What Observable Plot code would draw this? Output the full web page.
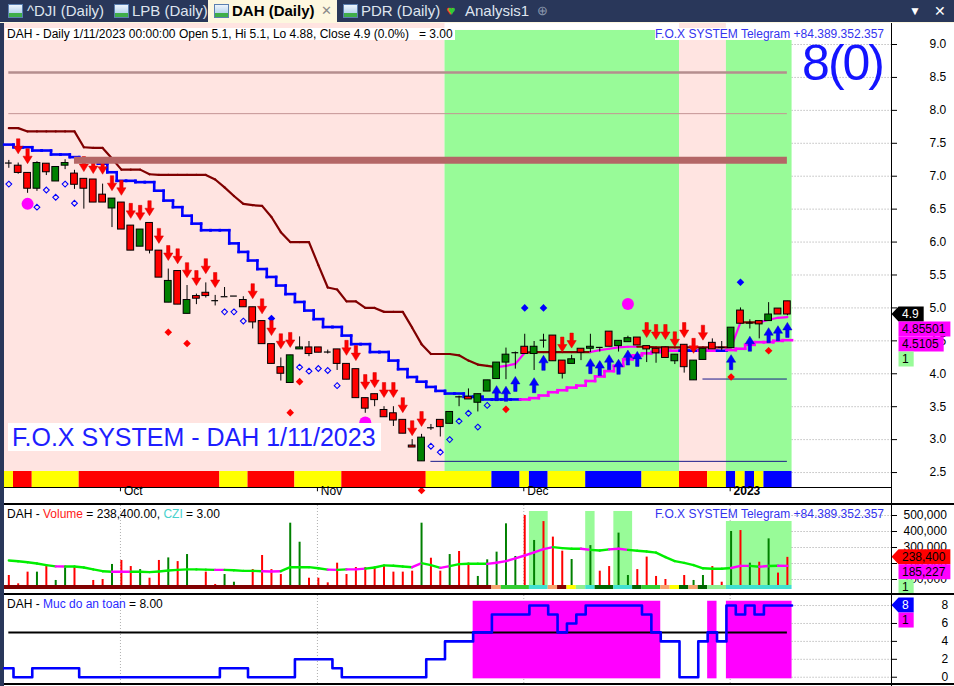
<!DOCTYPE html>
<html><head><meta charset="utf-8">
<script src="https://cdn.jsdelivr.net/npm/d3@7"></script>
<script src="https://cdn.jsdelivr.net/npm/@observablehq/plot@0.6"></script>
<style>
html,body{margin:0;padding:0}
body{width:954px;height:686px;position:relative;overflow:hidden;background:#29375a;font-family:"Liberation Sans",Arial,sans-serif}
.tab{position:absolute;top:0;height:22px;line-height:22px;font-size:15px;color:#dfe5ef;white-space:nowrap}
.ico{position:absolute;top:4px;width:13px;height:12px;border:1px solid #5b7fb0;background:linear-gradient(to top,#3fae49 0,#3fae49 35%,transparent 35%),linear-gradient(#eef5fc,#9cc2e6)}
.ov{position:absolute;z-index:10;white-space:pre;font-size:12px;line-height:12px}
.sep{position:absolute;left:4px;width:950px;height:2px;background:#000;z-index:5}
</style></head><body>
<div class="tab" style="left:208px;width:129px;background:#fdf7df"></div>
<div style="position:absolute;left:0;top:22px;width:954px;height:1px;background:#fdf7df"></div>
<div class="ico" style="left:8px"></div><div class="tab" style="left:27px">^DJI (Daily)</div>
<div class="ico" style="left:114px"></div><div class="tab" style="left:132px">LPB (Daily)</div>
<div class="ico" style="left:214px"></div><div class="tab" style="left:232px;color:#000;font-weight:bold">DAH (Daily)</div>
<div class="tab" style="left:321px;color:#8a8a8a;font-size:13px">✕</div>
<div class="ico" style="left:343px"></div><div class="tab" style="left:361px">PDR (Daily)</div>
<div class="tab" style="left:446px;font-size:13px;color:#e33">♥<span style="color:#3c3;margin-left:-6px">♥</span></div>
<div class="tab" style="left:465px">Analysis1</div>
<div class="tab" style="left:537px;color:#8b97ad;font-size:13px">⊕</div>
<div class="tab" style="left:909px;color:#fff;font-size:12px">▼</div>
<div class="tab" style="left:934px;color:#fff;font-size:14px">✕</div>
<div style="position:absolute;left:4px;top:23px;width:950px;height:663px;background:#fff"></div>
<div class="sep" style="top:503px"></div>
<div class="sep" style="top:593px"></div>
<div class="sep" style="top:683px"></div>
<div style="position:absolute;left:891px;top:23px;width:1px;height:663px;background:#000;z-index:6"></div>

<div class="ov" style="left:5px;top:28px;background:#fff;padding:0 2px">DAH - Daily 1/11/2023 00:00:00 Open 5.1, Hi 5.1, Lo 4.88, Close 4.9 (0.0%)   = 3.00</div>
<div class="ov" style="right:70px;top:28px;background:#fff;color:#3333ee">F.O.X SYSTEM Telegram +84.389.352.357</div>
<div class="ov" style="right:71px;top:38px;font-size:50px;line-height:50px;color:#1414ff;letter-spacing:-2px">8(0)</div>
<div class="ov" style="left:8px;top:423px;width:369px;height:28px;background:#fff;color:#1e1eff;font-size:25px;line-height:28px;padding-left:4px">F.O.X SYSTEM - DAH 1/11/2023</div>
<div class="ov" style="left:7px;top:508px">DAH - <span style="color:#ff2020">Volume</span> = 238,400.00, <span style="color:#48d1cc">CZI</span> = 3.00</div>
<div class="ov" style="right:70px;top:508px;color:#3333ee">F.O.X SYSTEM Telegram +84.389.352.357</div>
<div class="ov" style="left:7px;top:598px">DAH - <span style="color:#2a2aff">Muc do an toan</span> = 8.00</div>

<script>
// ---------------- DATA ----------------
const openP = [7.20,7.16,7.05,6.81,7.19,6.92,7.16,7.04,6.96,6.95, 6.72,6.51,6.60,6.25,5.93,6.29,5.87,5.08,5.56,4.91, 5.18,5.23,5.11,5.17,5.18,5.12,5.01,4.80,4.45,4.10, 3.86,4.37,4.40,4.40,4.33,4.37,4.15,4.07,3.63,3.69, 3.45,3.40,3.30,2.91,2.67,3.18,3.30,3.24,3.65,3.65, 3.56,3.73,3.92,4.17,4.32,4.41,4.30,4.51,4.58,4.20, 4.15,4.38,4.38,4.40,4.64,4.42,4.48,4.55,4.42,4.38, 4.40,4.19,4.44,3.90,4.21,4.47,4.40,4.39,4.96,4.77, 4.80,4.80,4.99,5.10];
const highP = [7.24,7.20,7.05,7.22,7.19,7.14,7.25,7.09,6.96,6.95, 6.88,6.66,6.60,6.25,6.19,6.29,5.87,5.59,5.56,5.34, 5.21,5.38,5.19,5.31,5.18,5.17,5.01,4.80,4.45,4.24, 4.28,4.56,4.49,4.40,4.36,4.37,4.15,4.07,3.63,3.69, 3.50,3.50,3.30,3.00,3.08,3.23,3.30,3.42,3.66,3.77, 3.69,3.90,4.17,4.39,4.33,4.60,4.49,4.60,4.58,4.20, 4.28,4.38,4.60,4.40,4.64,4.50,4.57,4.55,4.42,4.38, 4.40,4.29,4.44,4.20,4.38,4.53,4.49,4.70,5.00,4.82, 4.80,5.08,4.99,5.10];
const lowP = [7.12,7.03,6.74,6.77,7.01,6.92,7.10,6.80,6.50,6.60, 6.60,6.22,6.19,5.87,5.93,5.82,5.46,5.08,5.05,4.91, 5.05,5.15,5.03,5.17,5.18,5.01,4.68,4.45,4.15,3.89, 3.86,4.37,4.26,4.32,4.30,4.05,3.91,3.63,3.40,3.50, 3.34,3.20,3.09,2.88,2.67,3.14,3.04,3.24,3.50,3.61, 3.42,3.73,3.92,3.91,4.07,4.30,4.05,4.39,4.19,3.92, 4.15,4.20,4.32,4.33,4.41,4.33,4.48,4.43,4.17,4.16, 4.24,4.14,4.01,3.90,4.21,4.37,4.35,4.39,4.76,4.68, 4.53,4.80,4.90,4.88];
const closeP = [7.20,7.05,6.81,7.20,7.06,7.14,7.20,6.87,6.81,6.60, 6.60,6.66,6.19,5.87,6.19,5.87,5.46,5.41,5.05,5.12, 5.14,5.18,5.11,5.17,5.18,5.01,4.78,4.45,4.15,4.00, 4.28,4.40,4.30,4.32,4.33,4.15,3.91,3.63,3.47,3.60, 3.34,3.29,3.09,2.88,3.03,3.18,3.19,3.42,3.65,3.61, 3.69,3.90,4.17,4.29,4.32,4.30,4.41,4.51,4.19,4.00, 4.22,4.32,4.41,4.40,4.41,4.50,4.54,4.43,4.37,4.31, 4.24,4.29,4.10,4.20,4.38,4.37,4.40,4.70,4.76,4.77, 4.75,4.90,4.90,4.90];

const upperLine = [7.73,7.73,7.68,7.68,7.68,7.68,7.68,7.68,7.44,7.43, 7.43,7.27,7.10,7.10,7.10,7.03,7.02,7.02,7.02,7.02, 7.02,7.02,6.95,6.83,6.70,6.58,6.56,6.55,6.38,6.15, 6.00,6.00,6.00,5.65,5.31,5.28,5.10,5.10,5.00,5.00, 4.94,4.94,4.94,4.70,4.45,4.30,4.30,4.30,4.28,4.20, 4.14,4.12,4.10,4.12,4.15,4.32,4.33,4.33,4.33,4.33, 4.33,4.33,4.33,4.36,4.38,4.40,4.41,4.41,4.41,4.40, 4.40,4.40,4.40,4.40,4.40,4.40,4.40,4.40,4.78,4.78, 4.78,4.82,4.85,4.86];
const upperState = [["dn",52],["up",3],["dn",7],["up",5],["dn",10],["up",1],["dn",2],["up",4]];
const lowerLine = [7.48,7.44,7.44,7.39,7.39,7.33,7.33,7.29,7.25,7.22, 7.19,7.06,6.93,6.93,6.91,6.91,6.78,6.63,6.53,6.40, 6.28,6.18,6.18,6.18,5.98,5.85,5.72,5.59,5.47,5.34, 5.21,5.09,4.96,4.83,4.71,4.71,4.58,4.45,4.45,4.33, 4.33,4.20,4.07,3.95,3.88,3.80,3.74,3.70,3.70,3.65, 3.65,3.61,3.61,3.61,3.61,3.61,3.63,3.67,3.72,3.75, 3.79,3.82,3.89,3.96,4.04,4.12,4.22,4.28,4.31,4.33, 4.35,4.35,4.35,4.35,4.35,4.35,4.35,4.36,4.38,4.44, 4.48,4.48,4.50,4.51];
const lowerState = [["dn",55],["up",17],["dn",2],["up",2],["dn",1],["up",7]];

const zoneRuns = [["sell",47],["buy",25],["sell",5],["buy",7]];
const stripRuns = [["Y",1],["R",2],["Y",5],["R",15],["Y",3],["R",5],["Y",5],["R",9],["Y",7],["B",3],["Y",1],["B",2],["Y",4],["B",6],["Y",4],["R",3],["Y",2],["B",1],["Y",1],["B",1],["Y",1],["B",3]];

const levels = [
  {name:"top", value:8.575, from:0, to:83},
  {name:"mid", value:7.95, from:0, to:83},
  {name:"band", value:7.243, from:7, to:83},
  {name:"sup", value:3.92, from:74, to:83},
  {name:"sup", value:2.67, from:45, to:83}
];

const downArrows = [[1,7.34],[2,7.19],[8,7.07],[9,7.04],[10,7.03],[11,6.78],[12,6.71],[13,6.36],[14,6.33],[15,6.40],[16,5.98],[17,5.72],[18,5.67],[19,5.46],[20,5.34],[21,5.52],[22,5.31],[26,5.14],[27,4.91],[28,4.58],[29,4.38],[30,4.40],[36,4.28],[37,4.20],[38,3.76],[39,3.79],[40,3.64],[41,3.64],[42,3.41],[43,3.06],[44,3.20],[59,4.33],[60,4.39],[68,4.55],[69,4.52],[70,4.52],[71,4.41],[72,4.55],[73,4.31],[74,4.51]];
const upArrows = [[52,3.82],[53,3.81],[54,3.96],[56,3.94],[57,4.28],[62,4.23],[63,4.20],[64,4.29],[65,4.22],[66,4.36],[67,4.34],[77,4.29],[79,4.57],[81,4.70],[82,4.73],[83,4.78]];
const hollowDiamonds = [[0,6.88],[3,6.53],[4,6.79],[5,6.68],[6,6.88],[7,6.59],[23,4.94],[24,4.94],[25,4.80],[31,4.10],[32,4.04],[33,4.08],[34,4.05],[35,3.82],[45,2.90],[46,2.81],[47,3.00],[48,3.28],[49,3.40],[50,3.19],[51,3.52]];
const redDots = [[17,4.63],[19,4.46],[30,3.41],[31,3.88],[44,2.227],[53,3.46],[77,3.95],[81,4.35]];
const blueDots = [[28,4.84],[55,5.00],[57,5.00],[78,5.39]];
const bigDots = [[2,6.58],[38,3.26],[66,5.06]];

const monthTicks = [{i:12,label:"Oct"},{i:33,label:"Nov"},{i:55,label:"Dec"},{i:77,label:"2023",year:true}];
const priceTicks = [2.5,3.0,3.5,4.0,4.5,5.0,5.5,6.0,6.5,7.0,7.5,8.0,8.5,9.0];

const volumeK = [125,73,146,146,181,94,181,181,56,94, 100,194,219,181,162,108,219,235,212,256, 50,146,69,131,83,56,162,250,162,131, 452,333,108,108,79,202,131,175,175,175, 187,146,146,152,452,233,152,256,275,202, 119,223,271,448,244,500,344,462,365,277, 225,62,312,152,181,390,125,162,240,119, 100,62,125,94,125,181,83,400,406,202, 208,354,140,238.4];
const volumeDir = "RRRGRGGRRRRGRRGRRGRGRRRGGRRRRRGGRRRRRRRRRRRRGRRGRRGGGGGRGRRRGRGRRGGRRRRRRGGRRGRGRGRR";
const volumeMaK = [219,214,208,200,190,182,181,181,175,163, 152,148,148,148,148,146,150,156,160,163, 163,162,160,160,158,154,154,152,150,152, 177,177,177,170,162,160,163,163,168,175, 188,186,181,177,202,190,173,184,196,198, 198,198,205,215,232,250,270,290,302,296, 292,292,285,281,288,292,285,280,275,268, 240,215,204,190,170,167,167,172,185,185, 180,184,186,185.227];
const volumeMaUp = [5,11,12,22,27,28,34,36,37,43,46,51,52,53,54,55,56,57,61,64,65,77,78,80,82];
const volStripRuns = [["dr",52],["or",1],["gr",3],["cy",2],["or",1],["dr",1],["ye",1],["lg",1],["cy",1],["dg",2],["cy",2],["dg",1],["gr",2],["or",1],["ye",1],["dg",1],["or",1],["dg",1],["lg",2],["cy",7]];
const volShade = [{from:56,to:57,top:525000},{from:62,to:62,top:525000},{from:65,to:66,top:525000},{from:77,to:83,top:462500}];
const volumeTicks = [100000,200000,300000,400000,500000];

const safety = [1,0,0,1,1,1,1,1,0,0, 0,0,0,0,0,0,0,0,0,0, 0,0,0,1,1,1,0,0,0,0, 0,2,2,2,2,1,0,0,0,0, 0,0,0,0,0,2,2,4,4,4, 5,5,7,7,7,7,8,8,7,5, 6,7,8,8,8,8,8,8,7,5, 4,4,0,0,4,5,4,8,7,8, 7,8,8,8];
const safetyTicks = [0,2,4,6,8];
const safetyLevel = 5;

const priceTags = [{value:4.9,label:"4.9",bg:"#000000",fg:"#ffffff",arrow:true},{value:4.85501,label:"4.85501",bg:"#ff00ff",fg:"#000"},{value:4.5105,label:"4.5105",bg:"#ff00ff",fg:"#000"},{value:null,label:"1",bg:"#98fb98",fg:"#000"}];
const volumeTags = [{value:238400,label:"238,400",bg:"#ff0000",fg:"#000",arrow:true},{value:185227,label:"185,227",bg:"#ff00ff",fg:"#000"},{value:null,label:"1",bg:"#98fb98",fg:"#000"}];
const safetyTags = [{value:8,label:"8",bg:"#0000ff",fg:"#fff",arrow:true},{value:null,label:"1",bg:"#ff00ff",fg:"#000"}];

// ---------------- HELPERS ----------------
const FONT = "'Liberation Sans', Arial, Helvetica, sans-serif";
const N = openP.length;
const idx = d3.range(N);
const xDomain = [-0.46, 94.1];
const PRICE_DOMAIN = [2.273, 9.319];
const STRIP_TOP = 2.516, GREEN_TOP = 9.213;
const VOL_DOMAIN = [37500, 562500], VOL_STRIP_TOP = 62500;
const SAFE_DOMAIN = [-0.70, 9.12];

function spans(runs){let s=0;return runs.map(([code,n])=>{const o={code,from:s,to:s+n-1};s+=n;return o;});}
function expand(runs){return runs.flatMap(([c,n])=>Array(n).fill(c));}
const upperCodes = expand(upperState), lowerCodes = expand(lowerState);

function poly(pts){return {draw(ctx,size){const k=Math.sqrt(size/Math.PI)/7;ctx.moveTo(pts[0][0]*k,pts[0][1]*k);for(let j=1;j<pts.length;j++)ctx.lineTo(pts[j][0]*k,pts[j][1]*k);ctx.closePath();}};}
const downSym = poly([[0,0],[-4.6,-7.5],[-1.7,-7.5],[-1.7,-15],[1.7,-15],[1.7,-7.5],[4.6,-7.5]]);
const upSym = poly([[0,0],[-4.6,7.5],[-1.7,7.5],[-1.7,15],[1.7,15],[1.7,7.5],[4.6,7.5]]);
const smallDiamond = poly([[0,-2.9],[2.9,0],[0,2.9],[-2.9,0]]);
const dotDiamond = poly([[0,-3.8],[3.8,0],[0,3.8],[-3.8,0]]);

const common = {width:954, marginLeft:4, marginRight:63, x:{domain:xDomain, axis:null}, color:{type:"identity"},
  style:{fontFamily:FONT, fontSize:"12px", background:"transparent", overflow:"visible", color:"#000"}};

function place(svg, top){svg.style.position="absolute";svg.style.left="0px";svg.style.top=top+"px";svg.style.zIndex="2";document.body.appendChild(svg);return svg;}

function addTags(svg, tags){
  const sc = svg.scale("y");
  const ys = d3.scaleLinear(sc.domain, sc.range);
  const g = d3.select(svg).append("g").attr("font-size",12).attr("font-family",FONT).attr("text-anchor","start");
  const h = 15; let prev = -Infinity;
  for (const t of tags){
    let c = t.value==null ? prev + h/2 : Math.max(ys(t.value), prev + h/2);
    const top = c - h/2;
    const gr = g.append("g");
    const shape = gr.append("path");
    const tx = gr.append("text").attr("x",902).attr("y",c).attr("dy","0.36em").attr("text-anchor","start").attr("fill",t.fg).text(t.label);
    const w = tx.node().getComputedTextLength();
    const L = 898.5, R = 902 + w + 5;
    const d = t.arrow ? `M891.5,${c}L${L},${top}H${R}V${top+h}H${L}Z` : `M${L},${top}H${R}V${top+h}H${L}Z`;
    shape.attr("d",d).attr("fill",t.bg);
    prev = top + h;
  }
}

const zoneColor = {sell:"#ffe4e1", buy:"#98fb98"};
const stripColor = {R:"#ff0000", Y:"#ffff00", B:"#0000ff"};
const lineColorUpper = {dn:"#800000", up:"#ff00ff"};
const lineColorLower = {dn:"#0000ff", up:"#ff00ff"};
const levelStyle = {top:{stroke:"#b58e8e",w:2.5}, mid:{stroke:"#c49494",w:1}, band:{stroke:"#b46666",w:7}, sup:{stroke:"#1a1a8c",w:1}};
const volStripColor = {dr:"#800000",or:"#f6a36e",gr:"#32cd32",cy:"#40e0d0",ye:"#ffff00",lg:"#90ee90",dg:"#006400"};

const upperSegs = d3.range(N-1).map(i=>({x1:i,y1:upperLine[i],x2:i+1,y2:upperLine[i+1],c:lineColorUpper[upperCodes[i]]}));
const lowerSegs = idx.flatMap(i=>{
  const c = lineColorLower[lowerCodes[i]];
  const s = [{x1:i-0.5,x2:i+0.5,y1:lowerLine[i],y2:lowerLine[i],c}];
  if (i<N-1) s.push({x1:i+0.5,x2:i+0.5,y1:lowerLine[i],y2:lowerLine[i+1],c});
  return s;
});
const dir = i => closeP[i]>openP[i] ? "up" : closeP[i]<openP[i] ? "dn" : "flat";
const bodies = idx.filter(i=>dir(i)!=="flat");
const dojis = idx.filter(i=>dir(i)==="flat");

// ---------------- PRICE PANEL ----------------
const pricePlot = Plot.plot({...common, height:479, marginTop:0, marginBottom:15,
  y:{domain:PRICE_DOMAIN, axis:"right", ticks:priceTicks, tickFormat:d3.format(".1f"), tickSize:5, tickPadding:33, label:null},
  marks:[
    Plot.ruleY(priceTicks,{y:d=>d, x1:()=>N-0.5, x2:()=>xDomain[1], stroke:"#a0a0a0", strokeDasharray:"1,2"}),
    Plot.rect(spans(zoneRuns),{x1:d=>Math.max(d.from-0.5,xDomain[0]), x2:d=>d.to+0.5, y1:()=>STRIP_TOP, y2:d=>d.code==="sell"?PRICE_DOMAIN[1]:GREEN_TOP, fill:d=>zoneColor[d.code]}),
    Plot.rect(spans(stripRuns),{x1:d=>Math.max(d.from-0.5,xDomain[0]), x2:d=>d.to+0.5, y1:()=>PRICE_DOMAIN[0], y2:()=>STRIP_TOP, fill:d=>stripColor[d.code]}),
    Plot.ruleY(levels.filter(l=>l.name!=="band"),{y:"value", x1:"from", x2:"to", stroke:l=>levelStyle[l.name].stroke, strokeWidth:l=>levelStyle[l.name].w}),
    Plot.link(upperSegs,{x1:"x1",y1:"y1",x2:"x2",y2:"y2",stroke:"c",strokeWidth:2.2,strokeLinecap:"round"}),
    Plot.link(lowerSegs,{x1:"x1",y1:"y1",x2:"x2",y2:"y2",stroke:"c",strokeWidth:2.6,strokeLinecap:"square"}),
    Plot.ruleX(idx,{x:i=>i, y1:i=>lowP[i], y2:i=>highP[i], stroke:"#000", strokeWidth:1}),
    Plot.rect(bodies,{x1:i=>i-0.36, x2:i=>i+0.36, y1:i=>openP[i], y2:i=>closeP[i], fill:i=>dir(i)==="up"?"#008000":"#ff0000", stroke:"#000", strokeWidth:1}),
    Plot.ruleY(dojis,{y:i=>closeP[i], x1:i=>i-0.36, x2:i=>i+0.36, stroke:"#000", strokeWidth:1.2}),
    Plot.dot(hollowDiamonds,{x:d=>d[0], y:d=>d[1], symbol:smallDiamond, r:7, fill:"none", stroke:"#0000ff", strokeWidth:1.1}),
    Plot.dot(redDots,{x:d=>d[0], y:d=>d[1], symbol:dotDiamond, r:7, fill:"#ff0000", stroke:"none"}),
    Plot.dot(blueDots,{x:d=>d[0], y:d=>d[1], symbol:dotDiamond, r:7, fill:"#0000ff", stroke:"none"}),
    Plot.dot(bigDots,{x:d=>d[0], y:d=>d[1], r:6, fill:"#ff00ff", stroke:"none"}),
    Plot.dot(downArrows,{x:d=>d[0], y:d=>d[1], symbol:downSym, r:7, fill:"#ff0000", stroke:"#d00000", strokeWidth:0.5}),
    Plot.dot(upArrows,{x:d=>d[0], y:d=>d[1], symbol:upSym, r:7, fill:"#0000ff", stroke:"#0000c0", strokeWidth:0.5}),
    Plot.ruleY(levels.filter(l=>l.name==="band"),{y:"value", x1:"from", x2:"to", stroke:l=>levelStyle[l.name].stroke, strokeWidth:l=>levelStyle[l.name].w}),
    Plot.ruleY([PRICE_DOMAIN[0]],{y:d=>d, stroke:"#000"}),
    Plot.ruleX(monthTicks,{x:d=>d.i-0.1, y1:()=>PRICE_DOMAIN[0], y2:()=>PRICE_DOMAIN[0]-0.065, stroke:"#000"}),
    Plot.text(monthTicks.filter(d=>!d.year),{x:"i", text:"label", frameAnchor:"bottom", dy:7, dx:2.5, textAnchor:"start", fill:"#000"}),
    Plot.text(monthTicks.filter(d=>d.year),{x:"i", text:"label", frameAnchor:"bottom", dy:7, dx:2.5, textAnchor:"start", fill:"#000", fontWeight:"bold"})
  ]});
place(pricePlot, 23);
addTags(pricePlot, priceTags);

// ---------------- VOLUME PANEL ----------------
const volPlot = Plot.plot({...common, height:85, marginTop:0, marginBottom:1,
  y:{domain:VOL_DOMAIN, axis:"right", ticks:volumeTicks, tickFormat:d3.format(","), tickSize:5, tickPadding:7, label:null},
  marks:[
    Plot.ruleX(monthTicks,{x:d=>d.i-0.1, stroke:"#b0b0b0", strokeDasharray:"1,2"}),
    Plot.rect(volShade,{x1:d=>d.from-0.5, x2:d=>d.to+0.5, y1:()=>VOL_STRIP_TOP, y2:d=>d.top, fill:"#98fb98"}),
    Plot.ruleY(volumeTicks,{y:d=>d, x1:()=>N-0.5, x2:()=>xDomain[1], stroke:"#a0a0a0", strokeDasharray:"1,2"}),
    Plot.ruleX(idx,{x:i=>i, y1:()=>VOL_DOMAIN[0], y2:i=>volumeK[i]*1000, stroke:i=>volumeDir[i]==="G"?"#008000":"#ff0000", strokeWidth:2}),
    Plot.link(d3.range(N-1),{x1:i=>i, x2:i=>i+1, y1:i=>volumeMaK[i]*1000, y2:i=>volumeMaK[i+1]*1000, stroke:i=>volumeMaUp.includes(i)?"#ff00ff":"#00ee00", strokeWidth:2.4, strokeLinecap:"round"}),
    Plot.rect(spans(volStripRuns),{x1:d=>Math.max(d.from-0.5,xDomain[0]), x2:d=>d.to+0.5, y1:()=>VOL_DOMAIN[0], y2:()=>VOL_STRIP_TOP, fill:d=>volStripColor[d.code]})
  ]});
place(volPlot, 505);
addTags(volPlot, volumeTags);

// ---------------- SAFETY PANEL ----------------
const safeRuns = [];
idx.forEach(i=>{ if (safety[i]>=safetyLevel){ const last=safeRuns[safeRuns.length-1]; if(last && last.to===i-1) last.to=i; else safeRuns.push({from:i,to:i}); }});
const stepPts = idx.map(i=>({x:i-0.5,y:safety[i]})).concat([{x:N-0.5,y:safety[N-1]}]);
const safePlot = Plot.plot({...common, height:88, marginTop:0, marginBottom:0,
  y:{domain:SAFE_DOMAIN, axis:"right", ticks:safetyTicks, tickFormat:d3.format("d"), tickSize:5, tickPadding:45, label:null},
  marks:[
    Plot.ruleX(monthTicks,{x:d=>d.i-0.1, stroke:"#b0b0b0", strokeDasharray:"1,2"}),
    Plot.rect(safeRuns,{x1:d=>d.from-0.5, x2:d=>d.to+0.5, y1:()=>-0.18, y2:()=>8.48, fill:"#ff00ff"}),
    Plot.ruleY(safetyTicks,{y:d=>d, x1:()=>N-0.5, x2:()=>xDomain[1], stroke:"#a0a0a0", strokeDasharray:"1,2"}),
    Plot.ruleY([safetyLevel],{y:d=>d, x1:()=>0, x2:()=>N-1, stroke:"#000", strokeWidth:2}),
    Plot.line(stepPts,{x:"x", y:"y", curve:"step-after", stroke:"#0000ff", strokeWidth:2.6})
  ]});
place(safePlot, 595);
addTags(safePlot, safetyTags);
</script>
</body></html>
